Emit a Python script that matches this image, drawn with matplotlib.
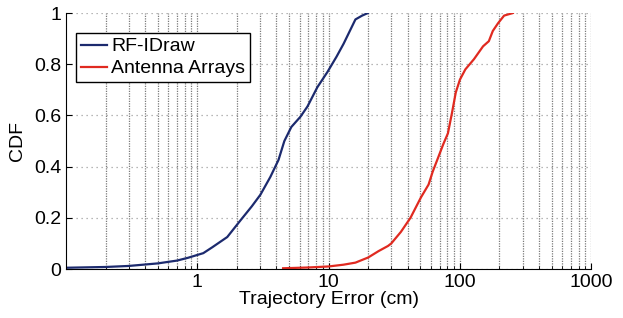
import numpy as np
import matplotlib.pyplot as plt
from matplotlib.ticker import LogLocator, NullFormatter

plt.rcParams['font.family'] = ['Liberation Sans', 'DejaVu Sans']

# CDF curves (error in cm, CDF)
rfidraw_x = [0.1, 0.2, 0.3, 0.5, 0.7, 0.85, 1.0, 1.11, 1.3, 1.69, 2.13, 2.6, 3.02, 3.6, 4.15, 4.6,
             5.2, 6.1, 6.9, 8.2, 9.8, 11.5, 13, 14.5, 16, 18, 19.9]
rfidraw_y = [0.005, 0.008, 0.012, 0.022, 0.033, 0.044, 0.055, 0.062, 0.085, 0.125, 0.19, 0.245, 0.29,
             0.36, 0.426, 0.5, 0.555, 0.595, 0.635, 0.71, 0.77, 0.83, 0.88, 0.93, 0.975, 0.99, 1.0]

arrays_x = [4.5, 7, 10, 13, 16, 20, 24, 28.3, 30, 35.5, 42, 50.5, 57.7, 62, 67.6, 75, 81, 87, 93,
            100, 110, 128, 150, 166, 178, 195, 217, 253]
arrays_y = [0.003, 0.006, 0.01, 0.017, 0.025, 0.045, 0.07, 0.09, 0.1, 0.145, 0.2, 0.28, 0.33, 0.38,
            0.43, 0.49, 0.53, 0.61, 0.69, 0.74, 0.78, 0.82, 0.87, 0.89, 0.93, 0.96, 0.99, 1.0]

fig = plt.figure(figsize=(6.23, 3.18), dpi=100)
ax = fig.add_axes([0.106, 0.154, 0.843, 0.805])

ax.plot(rfidraw_x, rfidraw_y, color='#1c2a6e', lw=1.6, label='RF-IDraw')
ax.plot(arrays_x, arrays_y, color='#e02a20', lw=1.6, label='Antenna Arrays')

ax.set_xscale('log')
ax.set_xlim(0.1, 1000)
ax.set_ylim(0, 1)
ax.set_xticks([1, 10, 100, 1000])
ax.set_xticklabels(['1', '10', '100', '1000'])
ax.xaxis.set_minor_locator(LogLocator(base=10, subs=np.arange(2, 10), numticks=20))
ax.xaxis.set_minor_formatter(NullFormatter())
ax.set_yticks([0, 0.2, 0.4, 0.6, 0.8, 1])
ax.set_yticklabels(['0', '0.2', '0.4', '0.6', '0.8', '1'])

ax.grid(True, which='both', axis='x', color='#7a7a7a', ls=(0, (1, 1)), lw=0.9)
ax.grid(True, which='major', axis='y', color='#a0a0a0', ls=(0, (1, 3)), lw=0.9)
ax.set_axisbelow(True)

for s in ['top', 'right']:
    ax.spines[s].set_visible(False)
ax.tick_params(axis='both', which='major', labelsize=14, direction='in', length=4)
ax.tick_params(axis='x', which='minor', direction='in', length=2)

ax.set_xlabel('Trajectory Error (cm)', fontsize=14, labelpad=0)
ax.set_ylabel('CDF', fontsize=14, labelpad=6)

leg = ax.legend(loc='upper left', bbox_to_anchor=(0.019, 0.922), fontsize=14, frameon=True,
                fancybox=False, edgecolor='black', handlelength=1.35, handletextpad=0.2,
                borderpad=0.25, labelspacing=0.22, borderaxespad=0, framealpha=1)
leg.get_frame().set_linewidth(1.0)

fig.savefig('out.png', dpi=100)
